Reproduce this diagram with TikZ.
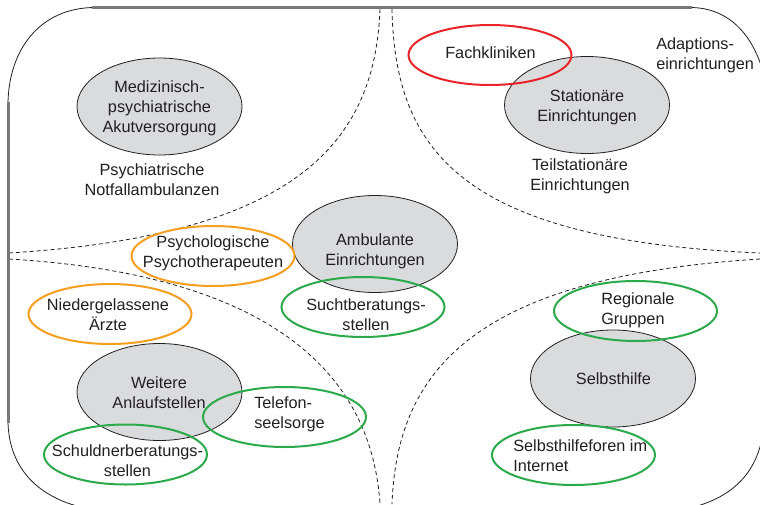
\documentclass[tikz,border=0pt]{standalone}
\usepackage{fontspec}
\setmainfont{Liberation Sans}
\usetikzlibrary{shapes.geometric}
\definecolor{txtc}{RGB}{35,31,32}
\definecolor{grayfill}{RGB}{218,219,221}
\definecolor{redc}{RGB}{232,36,41}
\definecolor{orangec}{RGB}{246,158,31}
\definecolor{greenc}{RGB}{42,170,74}
\definecolor{bordergray}{RGB}{120,120,120}
\begin{document}
\begin{tikzpicture}[x=0.75pt,y=-0.75pt,
 grayell/.style={ellipse, draw=txtc, line width=0.6pt, fill=grayfill, minimum width=123.75pt, minimum height=72.75pt, inner sep=0pt},
 colell/.style={ellipse, draw=#1, line width=1.5pt, minimum width=122.25pt, minimum height=45pt, inner sep=0pt},
 lbl/.style={text=txtc, font=\fontsize{12.2}{15}\selectfont, align=center, inner sep=0pt},
 lbll/.style={lbl, align=left, anchor=west},
 divider/.style={dash pattern=on 3pt off 2.2pt, line width=0.6pt, draw=txtc},
 borderline/.style={fill=bordergray},
 bordercorner/.style={line width=0.6pt, draw=txtc}]
\path[use as bounding box] (0,0) rectangle (760,504);
\fill[white] (0,0) rectangle (760,504);
\begin{scope}
\clip (0,0) rectangle (760,504);
% dividers
\draw[divider] (380,9) .. controls (375,140) and (300,235) .. (9,253);
\draw[divider] (392,9) .. controls (395,150) and (460,240) .. (760,253);
\draw[divider] (9,259) .. controls (280,275) and (372,380) .. (380,504);
\draw[divider] (760,259) .. controls (472,277) and (397,372) .. (392,504);
% frame
\draw[bordercorner] (8,105) .. controls (8,50) and (40,7.5) .. (95,7.5);
\draw[bordercorner] (690,7.5) .. controls (725,7.5) and (752,30) .. (764,75);
\draw[bordercorner] (764,425) .. controls (760,470) and (735,497) .. (690,508);
\draw[bordercorner] (8,420) .. controls (8,465) and (35,497) .. (85,508);
\path[borderline] (92,6) rectangle (692,9);
\path[borderline] (6.5,102) rectangle (9.5,423);
\end{scope}
% grey ellipses
\node[grayell] (med) at (159.5,106.5) {};
\node[grayell] (stat) at (587,105) {};
\node[grayell] (amb) at (375,244) {};
\node[grayell] (weit) at (159.5,392) {};
\node[grayell] (selb) at (613,378.5) {};
% coloured ellipses
\node[colell=redc] (fach) at (490,55) {};
\node[colell=orangec] (psych) at (213,256) {};
\node[colell=orangec] (nied) at (110,314) {};
\node[colell=greenc] (sucht) at (363,307) {};
\node[colell=greenc] (tel) at (284.5,417) {};
\node[colell=greenc] (schuld) at (125.5,454.5) {};
\node[colell=greenc] (reg) at (635.5,311) {};
\node[colell=greenc] (forum) at (573.5,455) {};
% texts
\node[lbl] (medt) at (159.5,108) {Medizinisch-\\psychiatrische\\Akutversorgung};
\node[lbl] (notf) at (152,180) {Psychiatrische\\Notfallambulanzen};
\node[lbl] (facht) at (490.5,53) {Fachkliniken};
\node[lbl] (statt) at (587,107) {Stationäre\\Einrichtungen};
\node[lbll] (adapt) at (656,55) {Adaptions-\\einrichtungen};
\node[lbl] (teil) at (580,176) {Teilstationäre\\Einrichtungen};
\node[lbl] (ambt) at (375,251) {Ambulante\\Einrichtungen};
\node[lbl] (psycht) at (213,253) {Psychologische\\Psychotherapeuten};
\node[lbl] (suchtt) at (366,314.5) {Suchtberatungs-\\stellen};
\node[lbl] (niedt) at (108,315) {Niedergelassene\\Ärzte};
\node[lbl] (weitt) at (159,393) {Weitere\\Anlaufstellen};
\node[lbll] (telt) at (254,414) {Telefon-\\seelsorge};
\node[lbl] (schuldt) at (127.5,461) {Schuldnerberatungs-\\stellen};
\node[lbll] (regt) at (601,310.5) {Regionale\\Gruppen};
\node[lbl] (selbt) at (613.5,379) {Selbsthilfe};
\node[lbll] (forumt) at (513,455.5) {Selbsthilfeforen im\\Internet};
\end{tikzpicture}
\end{document}
